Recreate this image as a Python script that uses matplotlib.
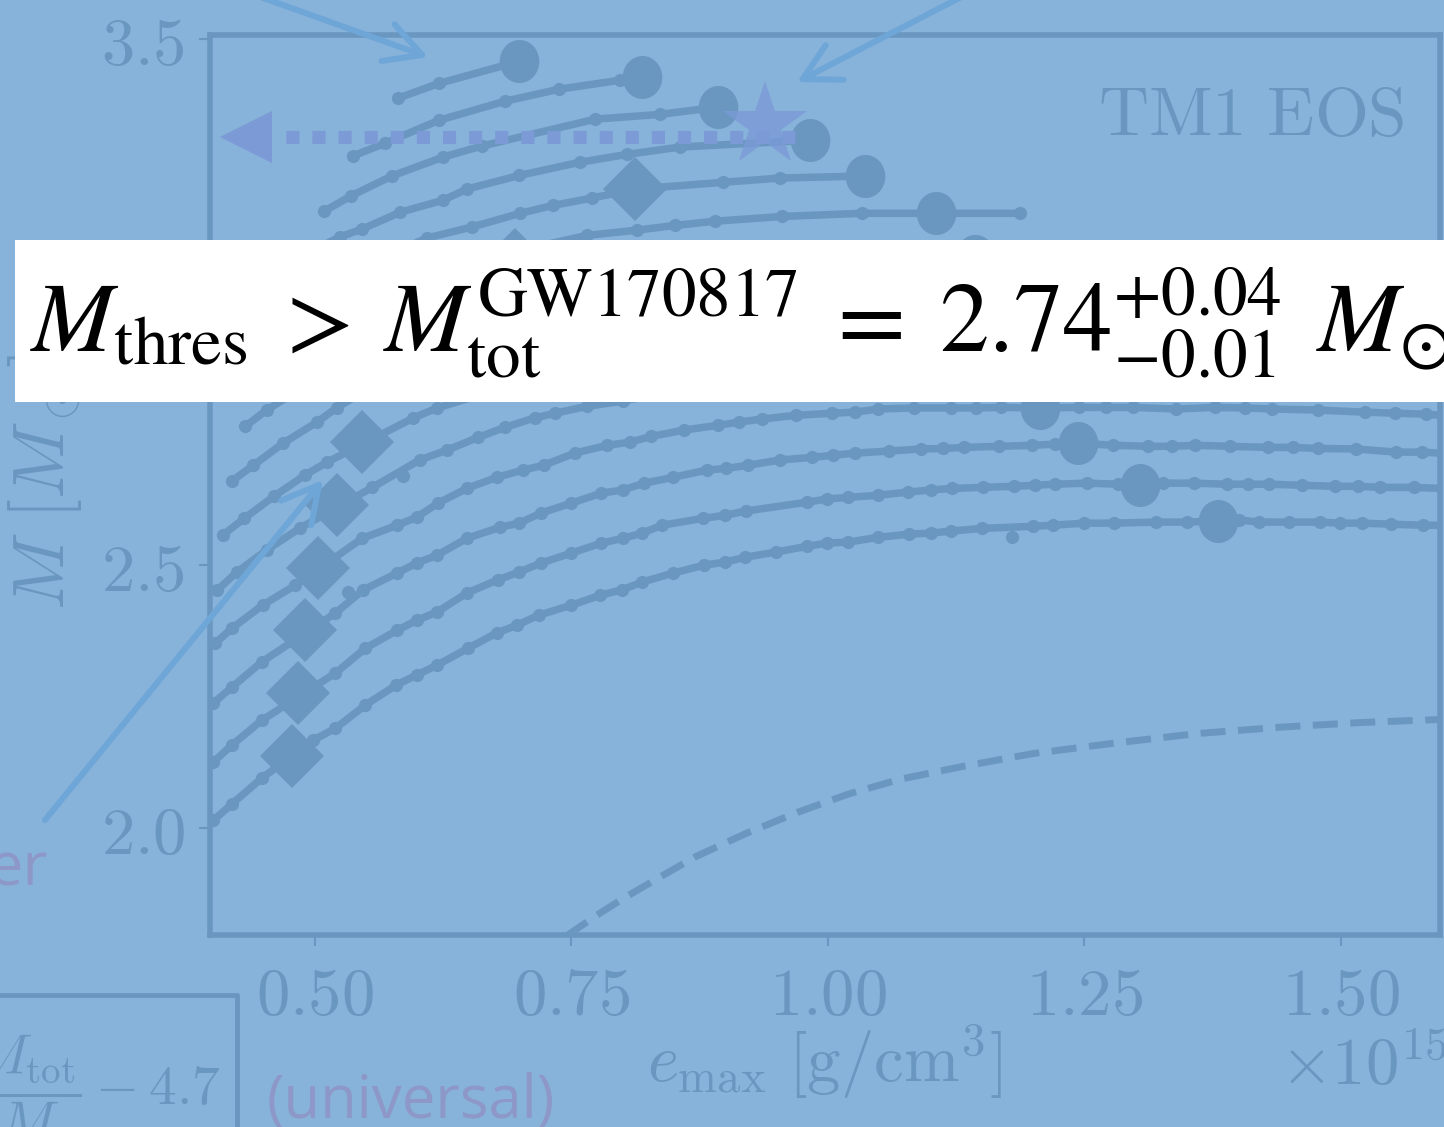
"""TM1 EOS rotating sequences, M vs e_max, as seen on a slide under a blue
tint with the GW170817 threshold-mass banner laid across it.

Writes out.png (1444 x 1127).
"""
import matplotlib

matplotlib.use("Agg")
import matplotlib.pyplot as plt  # noqa: E402
from matplotlib.lines import Line2D  # noqa: E402
from matplotlib.patches import FancyArrowPatch, Rectangle  # noqa: E402
from matplotlib.path import Path  # noqa: E402
from matplotlib.transforms import Affine2D  # noqa: E402

# e_max in 1e15 g/cm^3, M in M_sun; sequences ordered top to bottom
SEQ01_E = [0.581, 0.621, 0.699]
SEQ01_M = [3.388, 3.416, 3.458]
SEQ02_E = [0.537, 0.568, 0.621, 0.685, 0.738, 0.797, 0.819]
SEQ02_M = [3.278, 3.302, 3.346, 3.382, 3.405, 3.422, 3.428]
SEQ03_E = [0.509, 0.535, 0.575, 0.625, 0.663, 0.773, 0.836, 0.893]
SEQ03_M = [3.173, 3.202, 3.240, 3.276, 3.297, 3.348, 3.357, 3.371]
SEQ04_E = [0.460, 0.500, 0.524, 0.546, 0.583, 0.625, 0.648, 0.699, 0.758, 0.804, 0.856, 0.982]
SEQ04_M = [3.060, 3.100, 3.124, 3.139, 3.171, 3.194, 3.215, 3.241, 3.266, 3.281, 3.295, 3.308]
SEQ05_E = [0.500, 0.555, 0.609, 0.653, 0.700, 0.732, 0.770, 0.812, 0.898, 0.953, 1.036]
SEQ05_M = [3.020, 3.075, 3.122, 3.143, 3.169, 3.184, 3.198, 3.215, 3.228, 3.236, 3.240]
SEQ06_E = [0.520, 0.600, 0.680, 0.765, 0.814, 0.851, 0.890, 0.955, 1.033, 1.105, 1.187]
SEQ06_M = [2.970, 3.040, 3.090, 3.127, 3.137, 3.146, 3.154, 3.163, 3.169, 3.169, 3.169]
SEQ07_E = [0.460, 0.530, 0.610, 0.695, 0.800, 0.920, 1.030, 1.143, 1.270, 1.420, 1.597]
SEQ07_M = [2.860, 2.950, 3.030, 3.075, 3.083, 3.086, 3.088, 3.088, 3.085, 3.080, 3.075]
SEQ08_E = [0.432, 0.453, 0.490, 0.540, 0.590, 0.640, 0.720, 0.820, 0.950, 1.060, 1.150,
           1.300, 1.450, 1.597]
SEQ08_M = [2.764, 2.795, 2.840, 2.895, 2.940, 2.985, 3.020, 3.045, 3.055, 3.058, 3.055,
           3.050, 3.040, 3.035]
SEQ09_E = [0.419, 0.440, 0.469, 0.502, 0.521, 0.560, 0.600, 0.660, 0.740, 0.840, 0.950,
           1.050, 1.150, 1.300, 1.450, 1.597]
SEQ09_M = [2.660, 2.690, 2.732, 2.772, 2.799, 2.845, 2.880, 2.925, 2.963, 2.988, 3.003,
           3.010, 3.008, 3.004, 2.998, 2.992]
SEQ10_E = [0.410, 0.431, 0.460, 0.490, 0.512, 0.596, 0.619, 0.680, 0.760, 0.850, 0.950,
           1.060, 1.160, 1.300, 1.450, 1.597]
SEQ10_M = [2.557, 2.589, 2.631, 2.671, 2.696, 2.780, 2.799, 2.835, 2.873, 2.898, 2.915,
           2.925, 2.930, 2.928, 2.922, 2.917]
SEQ11_E = [0.405, 0.424, 0.453, 0.485, 0.556, 0.602, 0.629, 0.659, 0.685, 0.714, 0.734,
           0.765, 0.800, 0.860, 0.940, 1.030, 1.180, 1.300, 1.450, 1.597]
SEQ11_M = [2.453, 2.487, 2.529, 2.570, 2.648, 2.700, 2.719, 2.743, 2.762, 2.780, 2.789,
           2.802, 2.812, 2.835, 2.848, 2.857, 2.862, 2.860, 2.855, 2.850]
SEQ12_E = [0.403, 0.419, 0.449, 0.481, 0.546, 0.580, 0.599, 0.620, 0.648, 0.677, 0.703,
           0.723, 0.753, 0.785, 0.807, 0.828, 0.860, 0.893, 0.913, 0.936, 0.969, 1.004,
           1.026, 1.049, 1.084, 1.120, 1.144, 1.169, 1.207, 1.245, 1.271, 1.297, 1.339,
           1.377, 1.406, 1.433, 1.478, 1.523, 1.553, 1.583, 1.598]
SEQ12_M = [2.352, 2.380, 2.424, 2.462, 2.551, 2.576, 2.591, 2.618, 2.646, 2.667, 2.681,
           2.690, 2.713, 2.728, 2.734, 2.745, 2.757, 2.766, 2.772, 2.778, 2.785, 2.789,
           2.791, 2.797, 2.799, 2.799, 2.799, 2.800, 2.799, 2.800, 2.800, 2.800, 2.797,
           2.800, 2.799, 2.797, 2.795, 2.791, 2.789, 2.787, 2.785]
SEQ13_E = [0.401, 0.419, 0.448, 0.520, 0.547, 0.580, 0.599, 0.619, 0.648, 0.680, 0.699,
           0.720, 0.750, 0.779, 0.800, 0.821, 0.849, 0.882, 0.901, 0.922, 0.953, 0.984,
           1.005, 1.026, 1.059, 1.091, 1.112, 1.133, 1.167, 1.199, 1.221, 1.244, 1.278,
           1.312, 1.335, 1.358, 1.392, 1.429, 1.453, 1.478, 1.515, 1.554, 1.579, 1.598]
SEQ13_M = [2.238, 2.268, 2.316, 2.409, 2.453, 2.485, 2.504, 2.519, 2.551, 2.572, 2.580,
           2.599, 2.618, 2.637, 2.643, 2.656, 2.667, 2.681, 2.684, 2.690, 2.700, 2.705,
           2.709, 2.713, 2.717, 2.721, 2.722, 2.724, 2.726, 2.728, 2.730, 2.732, 2.728,
           2.726, 2.726, 2.728, 2.726, 2.724, 2.724, 2.722, 2.721, 2.715, 2.715, 2.713]
SEQ14_E = [0.401, 0.419, 0.448, 0.520, 0.549, 0.580, 0.599, 0.619, 0.648, 0.678, 0.699,
           0.720, 0.750, 0.779, 0.800, 0.819, 0.838, 0.878, 0.900, 0.920, 0.980, 0.999,
           1.020, 1.049, 1.078, 1.100, 1.121, 1.151, 1.181, 1.202, 1.221, 1.252, 1.283,
           1.327, 1.357, 1.389, 1.409, 1.430, 1.462, 1.494, 1.517, 1.538, 1.571, 1.598]
SEQ14_M = [2.126, 2.158, 2.205, 2.295, 2.342, 2.376, 2.395, 2.411, 2.447, 2.472, 2.487,
           2.504, 2.523, 2.542, 2.551, 2.561, 2.576, 2.589, 2.595, 2.603, 2.620, 2.626,
           2.629, 2.633, 2.639, 2.643, 2.646, 2.648, 2.650, 2.652, 2.654, 2.656, 2.654,
           2.656, 2.656, 2.654, 2.654, 2.654, 2.652, 2.650, 2.650, 2.648, 2.648, 2.646]
SEQ15_E = [0.401, 0.419, 0.448, 0.498, 0.520, 0.549, 0.579, 0.599, 0.619, 0.649, 0.677,
           0.697, 0.718, 0.750, 0.778, 0.799, 0.819, 0.849, 0.879, 0.900, 0.919, 0.949,
           0.980, 0.999, 1.020, 1.049, 1.079, 1.100, 1.120, 1.150, 1.200, 1.219, 1.250,
           1.279, 1.320, 1.350, 1.380, 1.401, 1.420, 1.449, 1.480, 1.499, 1.520, 1.549,
           1.580, 1.598]
SEQ15_M = [2.015, 2.046, 2.095, 2.167, 2.190, 2.234, 2.272, 2.291, 2.310, 2.342, 2.371,
           2.386, 2.405, 2.424, 2.443, 2.453, 2.468, 2.485, 2.500, 2.506, 2.515, 2.525,
           2.536, 2.542, 2.544, 2.553, 2.559, 2.561, 2.565, 2.570, 2.574, 2.576, 2.580,
           2.580, 2.582, 2.582, 2.584, 2.586, 2.582, 2.582, 2.582, 2.580, 2.580, 2.578,
           2.576, 2.576]

# big circles (one per sequence) and diamonds
CIRCLE_E = [0.699, 0.819, 0.893, 0.982, 1.036, 1.105, 1.143, 1.150, 1.150, 1.160,
            1.180, 1.207, 1.244, 1.304, 1.380]
CIRCLE_M = [3.458, 3.428, 3.371, 3.308, 3.240, 3.169, 3.088, 3.055, 3.008, 2.930,
            2.862, 2.799, 2.732, 2.652, 2.584]
DIAMOND_E = [0.812, 0.695, 0.640, 0.600, 0.546, 0.521, 0.503, 0.490, 0.483, 0.478]
DIAMOND_M = [3.215, 3.080, 2.985, 2.880, 2.734, 2.614, 2.494, 2.376, 2.257, 2.137]
STRAY_E = [0.532, 0.586, 1.179]
STRAY_M = [2.449, 2.669, 2.553]

DASH_E = [0.745, 0.775, 0.800, 0.830, 0.870, 0.920, 0.970, 1.020, 1.070, 1.130, 1.200,
          1.280, 1.360, 1.440, 1.520, 1.600]
DASH_M = [1.795, 1.835, 1.866, 1.900, 1.945, 1.990, 2.030, 2.065, 2.093, 2.117, 2.142,
          2.162, 2.180, 2.192, 2.201, 2.207]

STAR_E, STAR_M = 0.939, 3.337
LIMIT_E = [0.968, 0.459]
LIMIT_M = 3.314

X_TICKS = [0.50, 0.75, 1.00, 1.25, 1.50]
Y_TICKS = [2.0, 2.5, 3.0, 3.5]

W, H = 1444, 1127
BG = "#87b2da"
INK = "#6a97c0"
ARROW = "#6fa6d8"
PURPLE = "#7b9ad6"
MAUVE = "#8d98c8"


def fig_xy(px, py):
    return px / W, 1 - py / H


def main():
    plt.rcParams["mathtext.fontset"] = "cm"
    fig = plt.figure(figsize=(W / 100, H / 100), dpi=100, facecolor=BG)
    ax = fig.add_axes([210 / W, 1 - 935 / H, 1230 / W, 900 / H], facecolor=BG)

    seqs = [(SEQ01_E, SEQ01_M), (SEQ02_E, SEQ02_M), (SEQ03_E, SEQ03_M),
            (SEQ04_E, SEQ04_M), (SEQ05_E, SEQ05_M), (SEQ06_E, SEQ06_M),
            (SEQ07_E, SEQ07_M), (SEQ08_E, SEQ08_M), (SEQ09_E, SEQ09_M),
            (SEQ10_E, SEQ10_M), (SEQ11_E, SEQ11_M), (SEQ12_E, SEQ12_M),
            (SEQ13_E, SEQ13_M), (SEQ14_E, SEQ14_M), (SEQ15_E, SEQ15_M)]
    for e, m in seqs:
        ax.plot(e, m, "-o", color=INK, lw=5.4, ms=9.5, mew=0)

    oval = Path.unit_circle().transformed(Affine2D().scale(0.92, 1.0))
    ax.plot(CIRCLE_E, CIRCLE_M, ls="none", marker=oval, ms=31, color=INK, mew=0)
    ax.plot(DIAMOND_E, DIAMOND_M, ls="none", marker="D", ms=33, color=INK, mew=0)
    ax.plot(STRAY_E, STRAY_M, ls="none", marker="o", ms=9.5, color=INK, mew=0)
    ax.plot(DASH_E, DASH_M, color=INK, lw=5, ls=(0, (3.6, 1.8)), dash_capstyle="butt")

    # dotted "limit" arrow and the star
    ax.plot(LIMIT_E, [LIMIT_M, LIMIT_M], color=PURPLE, lw=9.4, ls=(0, (1, 1)),
            dash_capstyle="butt", zorder=4)
    ax.plot(0.433, LIMIT_M, marker="<", ms=37, color=PURPLE, mew=0, zorder=4)
    ax.plot(STAR_E, STAR_M, marker="*", ms=64, color=PURPLE, alpha=0.8, mew=0, zorder=5)

    ax.set_xlim(0.3977, 1.5965)
    ax.set_ylim(1.797, 3.508)
    ax.set_xticks(X_TICKS, labels=[f"${t:.2f}$" for t in X_TICKS])
    ax.set_yticks(Y_TICKS, labels=[f"${t:.1f}$" for t in Y_TICKS])
    ax.tick_params(direction="out", length=8, width=1.5, color=INK,
                   labelcolor=INK, labelsize=48)
    ax.tick_params(axis="x", pad=12)
    ax.tick_params(axis="y", pad=10)
    for sp in ax.spines.values():
        sp.set_linewidth(4)
        sp.set_color(INK)

    fig.text(*fig_xy(1405, 135), r"$\mathrm{TM1\ EOS}$", fontsize=50, color=INK,
             ha="right", va="baseline")
    fig.text(*fig_xy(825, 1082), r"$e_{\rm max}\ [{\rm g/cm^3}]$", fontsize=48,
             color=INK, ha="center", va="baseline")
    fig.text(*fig_xy(1280, 1085), r"$\times10^{15}$", fontsize=48, color=INK,
             ha="left", va="baseline")
    fig.text(*fig_xy(45, 482), r"$M\ [M_\odot]$", fontsize=52, color=INK,
             rotation=90, ha="center", va="center", zorder=2)

    # slide leftovers around the plot
    for tail, tip in [((255, -5), (428, 57)), ((965, -5), (797, 82)),
                      ((45, 820), (323, 480))]:
        fig.add_artist(FancyArrowPatch(
            fig_xy(*tail), fig_xy(*tip), transform=fig.transFigure,
            arrowstyle="->,head_length=2.6,head_width=1.4", mutation_scale=10,
            lw=4.3, color=ARROW, capstyle="round", joinstyle="round",
            shrinkA=0, shrinkB=0))
    fig.add_artist(Line2D([0, 237 / W, 237 / W], [1 - 995 / H, 1 - 995 / H, 0],
                          transform=fig.transFigure, color=INK, lw=3.5))
    fig.text(*fig_xy(221, 1105), r"$\dfrac{M_{\rm tot}}{M} - 4.7$", fontsize=40,
             color=INK, ha="right", va="baseline")
    fig.text(*fig_xy(267, 1118), "(universal)", fontsize=43, family="Open Sans",
             color=MAUVE, va="baseline")
    fig.text(*fig_xy(48, 885), "er", fontsize=44, family="Open Sans",
             color=MAUVE, ha="right", va="baseline")

    # white banner with the threshold-mass statement
    fig.add_artist(Rectangle(fig_xy(15, 402), 1.0, 162 / H, transform=fig.transFigure,
                             facecolor="white", edgecolor="none", zorder=5))
    fig.text(*fig_xy(30, 352),
             r"$M_{\rm thres}\;>\:M_{\rm tot}^{\rm GW170817}\;=\;"
             r"2.74^{+0.04}_{-0.01}\;\,M_{\odot}$",
             fontsize=71, math_fontfamily="stix", color="black", ha="left",
             va="baseline", zorder=6)

    fig.savefig("out.png", dpi=100, facecolor=BG)


if __name__ == "__main__":
    main()
